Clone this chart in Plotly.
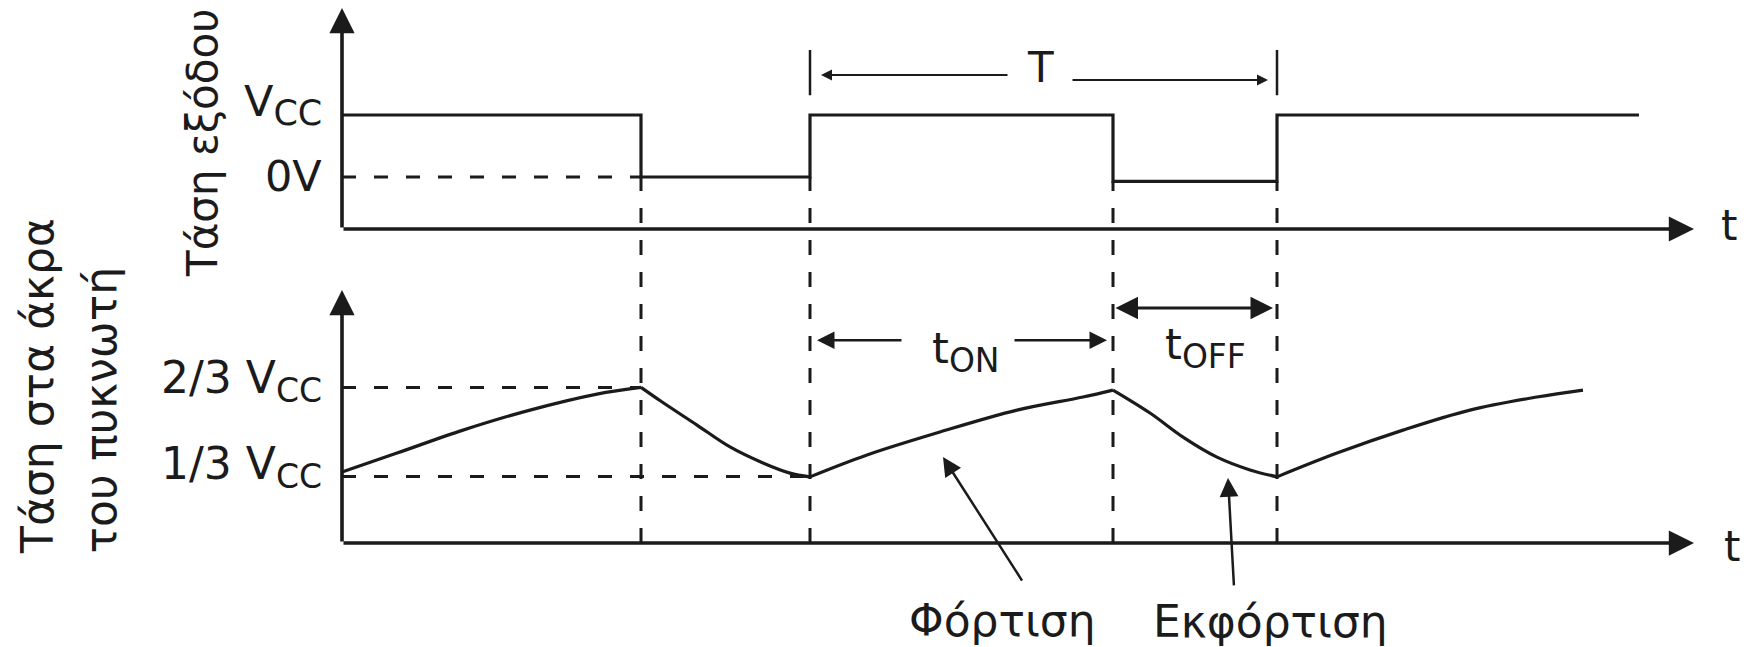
import plotly.graph_objects as go

W, H = 1746, 647
INK = "#1b1b1b"
FONT = "DejaVu Sans"

# ---------------- data (time in ms, voltage in units of Vcc) ----------------
# output voltage: step levels starting at each instant (drawn "hv")
out_t = [0.0, 2.99, 4.68, 7.71, 9.35, 12.97]
out_v = [1.0, 0.0, 1.0, -0.07, 1.0, 1.0]

# capacitor voltage, read segment by segment
charge1_t = [0.00, 0.55, 1.21, 1.88, 2.55, 2.99]
charge1_v = [0.350, 0.421, 0.507, 0.582, 0.642, 0.667]
dis1_t = [2.99, 3.19, 3.55, 3.88, 4.21, 4.48, 4.68]
dis1_v = [0.667, 0.615, 0.526, 0.444, 0.384, 0.346, 0.332]
charge2_t = [4.68, 5.25, 5.98, 6.75, 7.41, 7.71]
charge2_v = [0.332, 0.414, 0.500, 0.582, 0.631, 0.657]
dis2_t = [7.71, 8.08, 8.41, 8.75, 9.08, 9.35]
dis2_v = [0.657, 0.571, 0.481, 0.406, 0.358, 0.332]
charge3_t = [9.35, 9.95, 10.61, 11.28, 11.95, 12.41]
charge3_v = [0.332, 0.421, 0.507, 0.582, 0.631, 0.657]

top_level_values = [1.0, 0.0]
top_level_labels = ["V<sub>CC</sub>", "0V"]
bot_level_values = [2 / 3, 1 / 3]
bot_level_labels = ["2/3 V<sub>CC</sub>", "1/3 V<sub>CC</sub>"]

title_top = "Τάση εξόδου"
title_bot_1 = "Τάση στα άκρα"
title_bot_2 = "του πυκνωτή"
label_T = "T"
label_ton = "t<sub>ON</sub>"
label_toff = "t<sub>OFF</sub>"
label_charge = "Φόρτιση"
label_discharge = "Εκφόρτιση"
label_time = "t"

# ---------------- geometry (pixel mapping of the two panels) ----------------
X0PX, XSCALE = 342, 100.0          # px of t=0, px per ms
XR = [-0.1, 13.6]
TOP0PX, TOPSCALE = 177, 62.0       # px of 0V in top panel, px per Vcc
TOPR = [-0.9, 2.8]
BOT13PX, BOTSCALE = 476.5, 267.0   # px of 1/3 Vcc in bottom panel, px per Vcc
BOTR = [0.06, 1.05]

T_AXIS_END = 13.52
TOP_BASE, TOP_AXIS_TOP = -0.839, 2.726
BOT_BASE, BOT_AXIS_TOP = 0.084, 1.032


def top_py(v):
    return TOP0PX - v * TOPSCALE


def bot_py(v):
    return BOT13PX - (v - 1 / 3) * BOTSCALE


xdom = [(X0PX + XR[0] * XSCALE) / W, (X0PX + XR[1] * XSCALE) / W]
top_dom = [1 - top_py(TOPR[0]) / H, 1 - top_py(TOPR[1]) / H]
bot_dom = [1 - bot_py(BOTR[0]) / H, 1 - bot_py(BOTR[1]) / H]


def sub(label, size):
    return label.replace("<sub>", f"<sub><span style='font-size:{size}px'>").replace(
        "</sub>", "</span></sub>")


fig = go.Figure()

dashed = dict(color=INK, width=3, dash="14px,18px")

# top panel: output square wave
fig.add_trace(go.Scatter(x=out_t, y=out_v, mode="lines",
                         line=dict(color=INK, width=3.2, shape="hv"),
                         xaxis="x", yaxis="y", hoverinfo="skip"))
# 0V reference
fig.add_trace(go.Scatter(x=[0, out_t[1]], y=[out_v[1], out_v[1]], mode="lines",
                         line=dashed, xaxis="x", yaxis="y", hoverinfo="skip"))

# bottom panel: capacitor voltage
for tt, vv in [(charge1_t, charge1_v), (dis1_t, dis1_v), (charge2_t, charge2_v),
               (dis2_t, dis2_v), (charge3_t, charge3_v)]:
    fig.add_trace(go.Scatter(x=tt, y=vv, mode="lines",
                             line=dict(color=INK, width=3.2, shape="spline", smoothing=1.0),
                             xaxis="x2", yaxis="y2", hoverinfo="skip"))
# threshold references
fig.add_trace(go.Scatter(x=[0, out_t[1]], y=[bot_level_values[0]] * 2, mode="lines",
                         line=dashed, xaxis="x2", yaxis="y2", hoverinfo="skip"))
fig.add_trace(go.Scatter(x=[0, out_t[2]], y=[bot_level_values[1]] * 2, mode="lines",
                         line=dashed, xaxis="x2", yaxis="y2", hoverinfo="skip"))

shapes = []
# vertical dashed lines at the switching instants
for k in range(1, 5):
    low = min(out_v[k - 1], out_v[k])
    shapes.append(dict(type="line", xref="x", yref="paper",
                       x0=out_t[k], x1=out_t[k],
                       y0=1 - bot_py(BOT_BASE) / H, y1=1 - top_py(low) / H,
                       line=dict(color=INK, width=3, dash="15px,17px")))
# period markers
for k in (2, 4):
    shapes.append(dict(type="line", xref="x", yref="y", x0=out_t[k], x1=out_t[k],
                       y0=1.32, y1=2.05, line=dict(color=INK, width=2.5)))

ann = []


def arrow(xh, yh, xt, yt, xr, yr, w, size, both=False):
    return dict(x=xh, y=yh, ax=xt, ay=yt, xref=xr, yref=yr, axref=xr, ayref=yr,
                text="", showarrow=True, arrowhead=2, arrowsize=size, arrowwidth=w,
                arrowcolor=INK, arrowside="end+start" if both else "end",
                startarrowhead=2, startarrowsize=size, standoff=0, startstandoff=0)


def text(s, x, y, xr="paper", yr="paper", size=40, xa="center", ya="middle", angle=0,
         xshift=0, yshift=0):
    return dict(text=s, x=x, y=y, xref=xr, yref=yr, showarrow=False, xanchor=xa,
                yanchor=ya, textangle=angle, xshift=xshift, yshift=yshift,
                font=dict(family=FONT, size=size, color=INK))


# axes with arrows
ann.append(arrow(T_AXIS_END, TOP_BASE, 0, TOP_BASE, "x", "y", 3.6, 1.4))
ann.append(arrow(0, TOP_AXIS_TOP, 0, TOP_BASE, "x", "y", 3.6, 1.4))
ann.append(arrow(T_AXIS_END, BOT_BASE, 0, BOT_BASE, "x2", "y2", 3.6, 1.4))
ann.append(arrow(0, BOT_AXIS_TOP, 0, BOT_BASE, "x2", "y2", 3.6, 1.4))

# T arrows
ann.append(arrow(out_t[2] + 0.11, 1.645, out_t[2] + 1.99, 1.645, "x", "y", 2, 1.1))
ann.append(arrow(out_t[4] - 0.09, 1.565, out_t[4] - 2.06, 1.565, "x", "y", 2, 1.1))
ann.append(text(label_T, 6.98, 1.774, "x", "y", size=42))

# tON / tOFF
ann.append(arrow(out_t[2] + 0.07, 0.844, out_t[2] + 0.93, 0.844, "x2", "y2", 2.5, 1.4))
ann.append(arrow(out_t[3] - 0.06, 0.844, out_t[3] - 1.0, 0.844, "x2", "y2", 2.5, 1.4))
ann.append(text(sub(label_ton, 33), 6.24, 0.80, "x2", "y2", size=43))
ann.append(arrow(out_t[4] - 0.04, 0.964, out_t[3] + 0.01, 0.964, "x2", "y2", 3, 1.5, both=True))
ann.append(text(sub(label_toff, 33), 8.63, 0.815, "x2", "y2", size=43))

# pointers
ann.append(dict(x=6.01, y=0.406, xref="x2", yref="y2", ax=80, ay=125, text="",
                showarrow=True, arrowhead=2, arrowsize=1.5, arrowwidth=2.5, arrowcolor=INK,
                standoff=0))
ann.append(dict(x=8.86, y=0.328, xref="x2", yref="y2", ax=6, ay=109, text="",
                showarrow=True, arrowhead=2, arrowsize=1.5, arrowwidth=2.5, arrowcolor=INK,
                standoff=0))
ann.append(text(label_charge, 1003 / W, 1 - 620 / H, size=44))
ann.append(text(label_discharge, 1270 / W, 1 - 621 / H, size=44))

# level labels
for v, lab, ys in zip(top_level_values, top_level_labels, [10, 1]):
    ann.append(text(sub(lab, 35), 0, v, "x", "y", size=43, xa="right", xshift=-18, yshift=ys))
for v, lab, ys in zip(bot_level_values, bot_level_labels, [7, 10]):
    ann.append(text(sub(lab, 33), 0, v, "x2", "y2", size=44, xa="right", xshift=-18, yshift=ys))

# time labels
ann.append(text(label_time, 1729 / W, 1 - 226 / H, size=42))
ann.append(text(label_time, 1732 / W, 1 - 546 / H, size=42))

# rotated titles
ann.append(text(title_top, 203 / W, 1 - 143 / H, size=42, angle=-90))
ann.append(text(title_bot_1, 37 / W, 1 - 556 / H, size=44, angle=-90, ya="bottom"))
ann.append(text(title_bot_2, 100 / W, 1 - 556 / H, size=44, angle=-90, ya="bottom"))

axx = dict(visible=False, range=XR, domain=xdom, fixedrange=True)
fig.update_layout(
    width=W, height=H, autosize=False, margin=dict(l=0, r=0, t=0, b=0),
    paper_bgcolor="white", plot_bgcolor="rgba(0,0,0,0)", showlegend=False,
    xaxis=dict(**axx, anchor="y"),
    yaxis=dict(visible=False, range=TOPR, domain=top_dom, anchor="x", fixedrange=True),
    xaxis2=dict(**axx, anchor="y2"),
    yaxis2=dict(visible=False, range=BOTR, domain=bot_dom, anchor="x2", fixedrange=True),
    shapes=shapes, annotations=ann,
)

fig.write_html(
    "out.html",
    config={"displayModeBar": False},
    post_script="document.body.style.margin='0';document.documentElement.style.margin='0';"
                "document.body.style.overflow='hidden';",
)
